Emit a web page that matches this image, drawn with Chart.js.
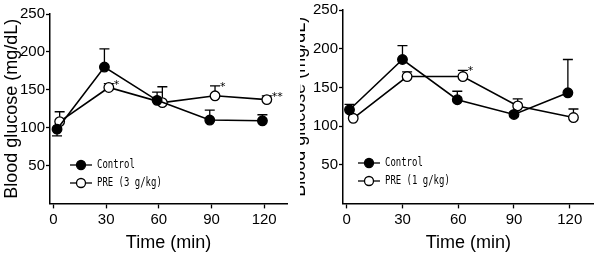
<!DOCTYPE html>
<html>
<head>
<meta charset="utf-8">
<script src="https://cdn.jsdelivr.net/npm/chart.js@4.4.0/dist/chart.umd.min.js"></script>
<style>
  body { margin: 0; background: #fff; }
  .box { position: absolute; top: 0; width: 300px; height: 257px; }
</style>
</head>
<body>
<div class="box" style="left:0"><canvas id="left" width="300" height="257"></canvas></div>
<div class="box" style="left:300px"><canvas id="right" width="300" height="257"></canvas></div>
<script>
// values (mg/dL), times slightly offset as in the original
const xTicks = [0, 30, 60, 90, 120];
const yTicks = [50, 100, 150, 200, 250];

const ctrlTimesL = [2, 29, 59, 89, 119];
const ctrlL = [98, 180, 136, 110, 109];
const ctrlErrL = [-9, 24, 11, 13, 8];   // negative = bar drawn downward
const preTimesL = [3.5, 31.5, 62, 92, 121.5];
const preL = [108, 153, 133, 142, 137];
const preErrL = [13, 5, 21, 13, 5];
const starsL = ['', '*', '', '*', '**'];

const ctrlTimesR = [1.5, 30, 59.5, 90, 119];
const ctrlR = [121, 186, 134, 115, 143];
const ctrlErrR = [7, 18, 11, 3, 43];
const preTimesR = [3.5, 32.5, 62.5, 92, 122];
const preR = [110, 164, 164, 126, 111];
const preErrR = [3, 6, 8, 9, 11];
const starsR = ['', '', '*', '', ''];

const tickFont = { family: 'Liberation Sans, Arial', size: 15 };
const titleFont = { family: 'Liberation Sans, Arial', size: 18 };

const extras = {
  id: 'extras',
  beforeDatasetsDraw(chart, args, opts) {
    const { ctx, scales: { x, y } } = chart;
    ctx.save();
    ctx.strokeStyle = '#000';
    ctx.lineWidth = 1.3;
    chart.data.datasets.forEach(ds => {
      ds.data.forEach((p, i) => {
        const e = ds.err[i];
        const px = x.getPixelForValue(p.x);
        const py = y.getPixelForValue(p.y);
        const ey = y.getPixelForValue(p.y + e);
        ctx.beginPath();
        ctx.moveTo(px, py);
        ctx.lineTo(px, ey);
        ctx.moveTo(px - 5, ey);
        ctx.lineTo(px + 5, ey);
        ctx.stroke();
      });
    });
    ctx.restore();
  },
  afterDatasetsDraw(chart, args, opts) {
    const { ctx, scales: { x, y } } = chart;
    ctx.save();
    // significance marks
    const pre = chart.data.datasets[1];
    ctx.fillStyle = '#000';
    ctx.font = '11px DejaVu Sans';
    ctx.textBaseline = 'middle';
    opts.stars.forEach((s, i) => {
      if (!s) return;
      const p = pre.data[i];
      ctx.fillText(s, x.getPixelForValue(p.x) + 5, y.getPixelForValue(p.y + pre.err[i]) + 1);
    });
    // legend
    const lx = chart.chartArea.left + opts.legendX;
    chart.data.datasets.forEach((ds, i) => {
      const ly = opts.legendY + i * 18;
      ctx.strokeStyle = '#000';
      ctx.lineWidth = 1.3;
      ctx.beginPath();
      ctx.moveTo(lx, ly);
      ctx.lineTo(lx + 22, ly);
      ctx.stroke();
      ctx.beginPath();
      ctx.arc(lx + 11, ly, 4.5, 0, Math.PI * 2);
      ctx.fillStyle = ds.pointBackgroundColor;
      ctx.fill();
      ctx.stroke();
      ctx.fillStyle = '#000';
      ctx.font = '12px DejaVu Sans Mono';
      ctx.fillText(ds.label, lx + 27, ly, ds.label.length * 5.4);
    });
    ctx.restore();
  }
};

function makeChart(id, c, cT, cE, p, pT, pE, stars, preLabel, cfg) {
  const pts = (t, v) => t.map((tt, i) => ({ x: tt, y: v[i] }));
  return new Chart(document.getElementById(id), {
    type: 'line',
    data: {
      datasets: [
        { label: 'Control', data: pts(cT, c), err: cE, borderColor: '#000', borderWidth: 1.6,
          pointRadius: 4.8, pointBackgroundColor: '#000', pointBorderColor: '#000', pointBorderWidth: 1.3 },
        { label: preLabel, data: pts(pT, p), err: pE, borderColor: '#000', borderWidth: 1.6,
          pointRadius: 4.8, pointBackgroundColor: '#fff', pointBorderColor: '#000', pointBorderWidth: 1.3 }
      ]
    },
    options: {
      responsive: false,
      animation: false,
      layout: { padding: cfg.padding },
      plugins: {
        legend: { display: false },
        tooltip: { enabled: false },
        extras: { stars: stars, legendX: cfg.legendX, legendY: cfg.legendY }
      },
      scales: {
        x: {
          type: 'linear', min: -2, max: 133,
          afterBuildTicks: s => { s.ticks = xTicks.map(v => ({ value: v })); },
          grid: { drawOnChartArea: false, tickLength: 5, tickColor: '#000', tickWidth: 1.3 },
          border: { color: '#000', width: 1.5 },
          ticks: { color: '#000', font: tickFont, padding: 2, maxRotation: 0 },
          title: { display: true, text: 'Time (min)', color: '#000', font: titleFont, padding: { top: 2, bottom: 0 } }
        },
        y: {
          min: 0, max: 250,
          afterBuildTicks: s => { s.ticks = yTicks.map(v => ({ value: v })); },
          afterFit: s => { s.width = cfg.yWidth; },
          grid: { drawOnChartArea: false, tickLength: 4, tickColor: '#000', tickWidth: 1.3 },
          border: { color: '#000', width: 1.5 },
          ticks: { color: '#000', font: tickFont, padding: 1 },
          title: { display: true, text: 'Blood glucose (mg/dL)', color: '#000', font: titleFont, padding: { top: 1, bottom: 0 } }
        }
      }
    },
    plugins: [extras]
  });
}

makeChart('left', ctrlL, ctrlTimesL, ctrlErrL, preL, preTimesL, preErrL, starsL, 'PRE (3 g/kg)',
  { padding: { left: 0, top: 14, right: 13, bottom: 3 }, yWidth: 50, legendX: 20, legendY: 165 });
makeChart('right', ctrlR, ctrlTimesR, ctrlErrR, preR, preTimesR, preErrR, starsR, 'PRE (1 g/kg)',
  { padding: { left: -12, top: 10, right: 3, bottom: 3 }, yWidth: 55, legendX: 15, legendY: 163 });
</script>
</body>
</html>
